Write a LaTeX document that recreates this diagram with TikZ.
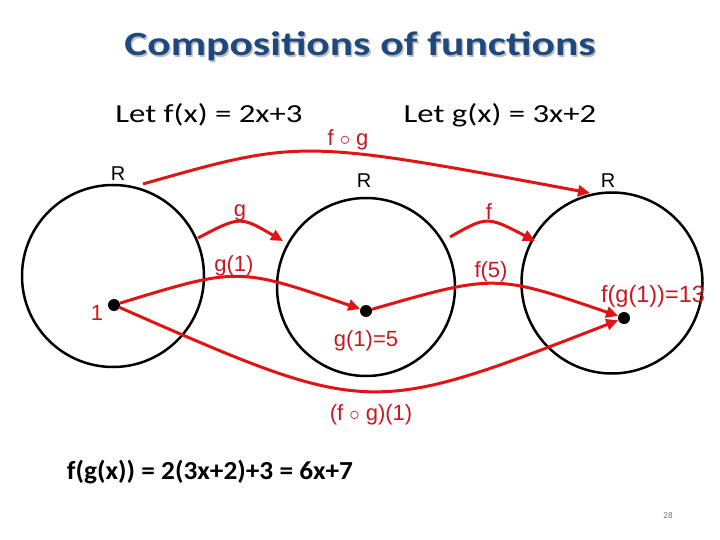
\documentclass[tikz,border=0pt]{standalone}
\usepackage{fontspec}
\setmainfont{Liberation Sans}
\newfontfamily\calfont{Carlito}
\usetikzlibrary{arrows.meta}
\definecolor{arrowred}{RGB}{225,20,20}
\definecolor{textred}{RGB}{200,25,35}
\definecolor{titleblue}{RGB}{31,73,125}
\newcommand{\titlestr}{Compositions of functions}
\tikzset{
  setcircle/.style={circle, draw=black, line width=2.5pt, inner sep=0pt},
  dot/.style={circle, fill=black, minimum size=12pt, inner sep=0pt},
  maparrow/.style={draw=arrowred, line width=3pt, -{Triangle[length=12pt,width=11pt]}},
  redlabel/.style={text=textred, font=\fontsize{22}{24}\selectfont, inner sep=0pt},
  rlabel/.style={font=\fontsize{20}{24}\selectfont, inner sep=0pt},
  lettext/.style={font=\calfont\fontsize{26}{30}\selectfont, inner sep=0pt},
  titletext/.style={font=\calfont\bfseries\fontsize{34}{40}\selectfont, inner sep=0pt},
}
\begin{document}
\begin{tikzpicture}[x=1pt,y=-1pt]
\useasboundingbox (0,0) rectangle (720,540);
% title with soft shadow in one node
\node[titletext, text=titleblue] (title) at (360,47) {\scalebox{1.28}[1]{\makebox[0pt][l]{\hspace{1.2pt}\raisebox{-1.5pt}{\color{black!25}\titlestr}}\titlestr}};
\node[lettext] (letf) at (209,115) {\scalebox{1.26}[1]{Let f(x) = 2x+3}};
\node[lettext] (letg) at (500,115) {\scalebox{1.26}[1]{Let g(x) = 3x+2}};
% sets
\node[setcircle, minimum size=182pt] (L) at (113,276) {};
\node[setcircle, minimum size=178pt] (M) at (366,287) {};
\node[setcircle, minimum size=181pt] (Rc) at (612,283) {};
\node[rlabel] (RL) at (118,174) {R};
\node[rlabel] (RM) at (364,181) {R};
\node[rlabel] (RR) at (608,181) {R};
% points
\node[dot] (d1) at (114,305) {};
\node[dot] (d2) at (366,311) {};
\node[dot] (d3) at (624,318) {};
% arrow ends
\coordinate (fgS) at (143,184);
\coordinate (fgE) at (590,193);
\coordinate (gS) at (198,238);
\coordinate (gE) at (283,241);
\coordinate (fS) at (450,237);
\coordinate (fE) at (535,241);
% arrows
\draw[maparrow] (fgS) .. controls (301,139) .. (fgE);
\draw[maparrow] (gS) .. controls (240,216) .. (gE);
\draw[maparrow] (fS) .. controls (487,216) .. (fE);
\draw[maparrow] (d1) .. controls (238,267) .. (d2);
\draw[maparrow] (d2) .. controls (495,274) .. (d3);
\draw[maparrow] (d1) .. controls (369,417) .. (d3);
% labels
\node[redlabel] (fog) at (348,140) {f $\circ$ g};
\node[redlabel] (glab) at (240,213) {g};
\node[redlabel] (flab) at (489,212) {f};
\node[redlabel] (g1) at (234,266) {g(1)};
\node[redlabel] (f5) at (491,272) {f(5)};
\node[redlabel] (one) at (97,313) {1};
\node[redlabel] (g1eq) at (366,341) {g(1)=5};
\node[redlabel, font=\fontsize{23.5}{26}\selectfont] (fg1) at (653,296) {f(g(1))=13};
\node[redlabel] (fog1) at (371,415) {(f $\circ$ g)(1)};
\node[font=\calfont\bfseries\fontsize{26}{30}\selectfont, inner sep=0pt] (eq) at (210,472) {\scalebox{1.05}[1]{f(g(x)) = 2(3x+2)+3 = 6x+7}};
\node[font=\calfont\fontsize{9}{11}\selectfont, text=black!55, inner sep=0pt] (page) at (668,515) {28};
\end{tikzpicture}
\end{document}
